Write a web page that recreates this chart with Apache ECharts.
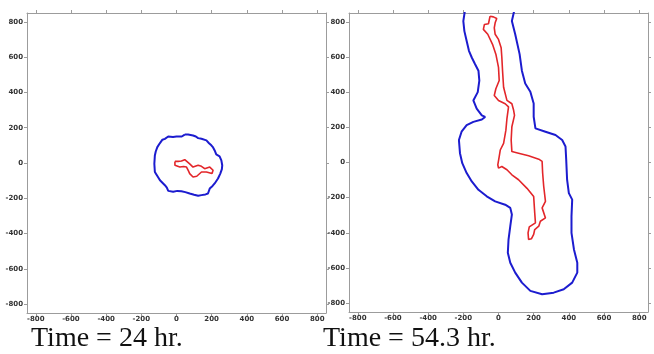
<!DOCTYPE html>
<html>
<head>
<meta charset="utf-8">
<script src="https://cdn.jsdelivr.net/npm/echarts@6/dist/echarts.min.js"></script>
<style>
html,body{margin:0;padding:0;background:#fff;}
#chart{width:654px;height:354px;}
</style>
</head>
<body>
<div id="chart"></div>
<script>
// Tick values shared by both panels
var tickValues = [-800, -600, -400, -200, 0, 200, 400, 600, 800];
var axisMin = -850, axisMax = 850;
var panelTitles = ['Time = 24 hr.', 'Time = 54.3 hr.'];

// Left panel (t = 24 hr): outer (blue) contour
var outer24 = [
  [47,161],[30,150],[19,146],[0,150],[-20,148],[-47,150],[-66,137],[-80,132],[-94,113],[-109,90],
  [-118,65],[-123,43],[-126,-4],[-123,-51],[-108,-75],[-94,-98],[-66,-126],[-55,-140],[-47,-158],
  [-19,-163],[5,-158],[28,-160],[50,-165],[75,-173],[100,-180],[123,-186],[142,-182],[165,-178],
  [179,-173],[189,-145],[205,-130],[217,-116],[236,-88],[249,-60],[258,-35],[260,-13],[255,15],
  [245,38],[226,49],[217,71],[208,88],[198,100],[185,112],[170,128],[142,137],[123,141],[110,150],
  [94,156],[66,161],[47,161]
];
// Left panel (t = 24 hr): inner (red) contour
var inner24 = [
  [-9,9],[-9,-13],[19,-23],[40,-20],[57,-23],[68,-45],[75,-60],[94,-79],[104,-88],[115,-75],
  [123,-64],[142,-51],[170,-51],[202,-60],[208,-41],[189,-23],[160,-32],[142,-19],[123,-13],
  [94,-23],[75,-5],[66,6],[47,19],[28,11],[9,9],[-9,9]
];
// Right panel (t = 54.3 hr): outer (blue) contour, open at the top edge
var outer54 = [
  [-190,870],[-200,804],[-194,747],[-181,691],[-168,635],[-152,597],[-133,559],[-114,522],
  [-109,466],[-118,400],[-143,353],[-124,306],[-95,268],[-76,259],[-95,244],[-143,231],
  [-181,212],[-210,175],[-225,128],[-219,53],[-206,-4],[-181,-60],[-152,-108],[-114,-155],
  [-67,-192],[-19,-221],[38,-240],[67,-258],[76,-296],[67,-362],[57,-438],[53,-513],[67,-570],
  [95,-626],[133,-683],[181,-730],[248,-749],[314,-740],[371,-721],[419,-683],[448,-626],
  [448,-570],[429,-494],[415,-400],[415,-306],[419,-211],[400,-174],[390,-98],[385,15],
  [381,91],[362,128],[324,156],[267,175],[210,194],[200,260],[200,336],[181,402],[152,449],
  [133,522],[120,616],[95,729],[76,804],[91,870]
];
// Right panel (t = 54.3 hr): inner (red) contour
var inner54 = [
  [-48,832],[-29,828],[-10,819],[-19,794],[-24,766],[-19,729],[0,700],[15,653],[19,597],
  [23,522],[29,428],[48,353],[76,334],[86,297],[91,268],[76,203],[72,128],[76,62],[114,53],
  [171,38],[229,19],[248,6],[251,-60],[257,-135],[267,-221],[248,-258],[267,-315],[238,-334],
  [229,-362],[206,-381],[200,-409],[187,-434],[171,-438],[168,-400],[175,-366],[210,-343],
  [206,-287],[200,-194],[162,-147],[114,-98],[76,-70],[48,-41],[19,-23],[0,-32],[-4,-13],
  [4,34],[10,71],[29,109],[42,184],[48,250],[57,316],[38,334],[0,353],[-24,381],[-15,419],
  [4,466],[0,541],[-15,616],[-34,672],[-61,729],[-86,757],[-80,785],[-57,789],[-48,832]
];

var BLUE = '#1c1ccf', RED = '#e3262a', FRAME = '#9c9c9c';

var grids = [
  {left: 27, top: 13, width: 299, height: 300},
  {left: 349, top: 13, width: 299, height: 299}
];

function xAx(gi, pos, showLabel) {
  return {
    type: 'value', gridIndex: gi, position: pos, min: axisMin, max: axisMax,
    axisLine: {show: true, onZero: false, lineStyle: {color: FRAME, width: 1}},
    axisTick: {show: true, inside: false, length: 3, customValues: tickValues, lineStyle: {color: FRAME}},
    axisLabel: {show: showLabel, customValues: tickValues, fontSize: 7, color: '#333', margin: 3,
                fontFamily: 'DejaVu Sans', fontWeight: 'bold'},
    splitLine: {show: false}
  };
}
function yAx(gi, pos, showLabel) {
  return {
    type: 'value', gridIndex: gi, position: pos, min: axisMin, max: axisMax,
    axisLine: {show: true, onZero: false, lineStyle: {color: FRAME, width: 1}},
    axisTick: {show: true, inside: false, length: 3, customValues: tickValues, lineStyle: {color: FRAME}},
    axisLabel: {show: showLabel, customValues: tickValues, fontSize: 7, color: '#333', margin: 4,
                fontFamily: 'DejaVu Sans', fontWeight: 'bold'},
    splitLine: {show: false}
  };
}

function contour(data, gi, color, width) {
  return {
    type: 'line', xAxisIndex: gi * 2, yAxisIndex: gi * 2, data: data,
    showSymbol: false, symbol: 'none', clip: true, smooth: false,
    lineStyle: {color: color, width: width}, silent: true, animation: false
  };
}

var option = {
  animation: false,
  backgroundColor: '#fff',
  grid: grids,
  xAxis: [xAx(0, 'bottom', true), xAx(0, 'top', false), xAx(1, 'bottom', true), xAx(1, 'top', false)],
  yAxis: [yAx(0, 'left', true), yAx(0, 'right', false), yAx(1, 'left', true), yAx(1, 'right', false)],
  series: [
    contour(outer24, 0, BLUE, 2),
    contour(inner24, 0, RED, 1.6),
    contour(outer54, 1, BLUE, 2),
    contour(inner54, 1, RED, 1.6)
  ],
  graphic: [
    {type: 'text', left: 31, top: 325, style: {text: panelTitles[0], font: '28px "Liberation Serif"', fill: '#111'}},
    {type: 'text', left: 323, top: 325, style: {text: panelTitles[1], font: '28px "Liberation Serif"', fill: '#111'}}
  ]
};

var chart = echarts.init(document.getElementById('chart'), null, {renderer: 'canvas'});
chart.setOption(option);
</script>
</body>
</html>
